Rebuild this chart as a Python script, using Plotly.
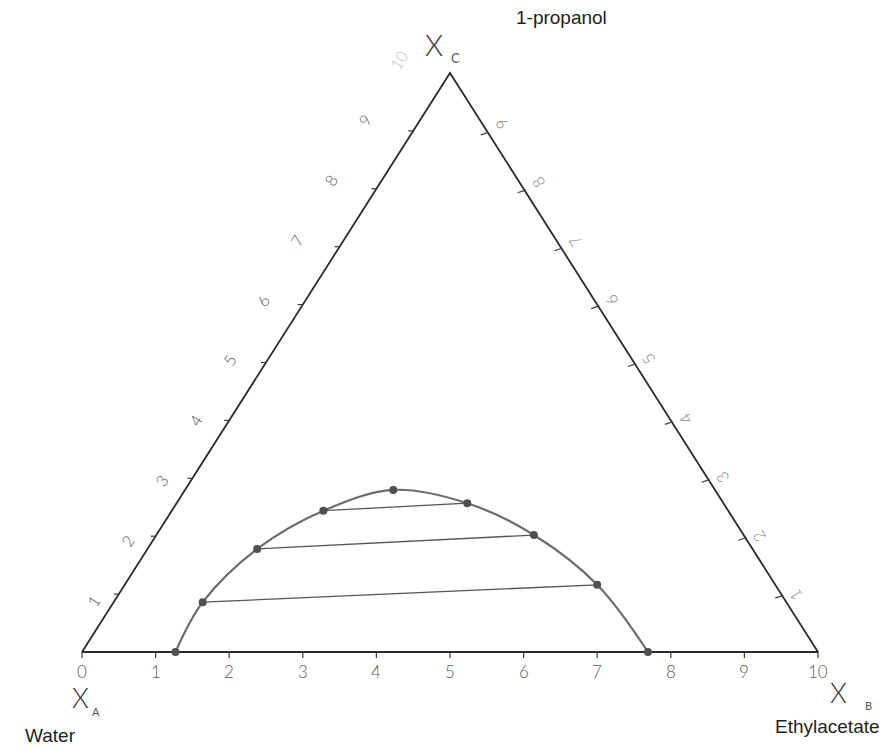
import plotly.graph_objects as go

# Binodal (solubility) curve of water / ethyl acetate / 1-propanol,
# compositions on a 0-10 scale (each row sums to 10)
water = [8.73, 7.93, 6.73, 5.50, 4.37, 3.48, 2.85, 2.42, 2.31]
ethylacetate = [1.27, 1.21, 1.49, 2.06, 2.83, 3.95, 5.13, 6.42, 7.69]
propanol = [0.00, 0.86, 1.78, 2.44, 2.80, 2.57, 2.02, 1.16, 0.00]

# Tie lines: index of the water-rich point and of its ester-rich partner
tie_water_rich = [1, 2, 3]
tie_ester_rich = [7, 6, 5]

bottom_ticks = list(range(0, 11))
left_ticks = list(range(1, 11))
right_ticks = list(range(1, 10))

W, H = 892, 748
# pixel scale of one composition unit along x and y
SX, SY = 73.6, 57.9
X0, Y0 = 82, 652


def proj(b, c):
    """Ternary (B, C) -> cartesian position inside the triangle."""
    return b + c / 2.0, c


fig = go.Figure()

# triangle frame A(water) - B(ethyl acetate) - C(1-propanol)
corners = [proj(0, 0), proj(10, 0), proj(0, 10), proj(0, 0)]
fig.add_trace(go.Scatter(
    x=[p[0] for p in corners], y=[p[1] for p in corners],
    mode="lines", line=dict(color="#2b2b2b", width=1.8),
    hoverinfo="skip", showlegend=False))

# tick marks on the three sides
tx, ty = [], []
for k in bottom_ticks:
    x, y = proj(k, 0)
    tx += [x, x, None]
    ty += [y, y - 6 / SY, None]
for k in left_ticks[:-1]:
    x, y = proj(0, k)
    tx += [x, x - 5 / SX, None]
    ty += [y, y, None]
for k in right_ticks:
    x, y = proj(10 - k, k)
    tx += [x + 2 / SX, x - 6 / SX, None]
    ty += [y - 1.3 / SY, y - 4 / SY, None]
fig.add_trace(go.Scatter(x=tx, y=ty, mode="lines",
                         line=dict(color="#3a3a3a", width=1.2),
                         hoverinfo="skip", showlegend=False))

# binodal curve
cx, cy = zip(*[proj(b, c) for b, c in zip(ethylacetate, propanol)])
fig.add_trace(go.Scatter(
    x=list(cx), y=list(cy), mode="lines",
    line=dict(color="#6c6c6c", width=2.2, shape="spline", smoothing=1.0),
    hoverinfo="skip", showlegend=False))

# tie lines
lx, ly = [], []
for i, j in zip(tie_water_rich, tie_ester_rich):
    lx += [cx[i], cx[j], None]
    ly += [cy[i], cy[j], None]
fig.add_trace(go.Scatter(x=lx, y=ly, mode="lines",
                         line=dict(color="#555555", width=1.3),
                         hoverinfo="skip", showlegend=False))

# measured points
fig.add_trace(go.Scatter(
    x=list(cx), y=list(cy), mode="markers",
    marker=dict(color="#505050", size=8),
    customdata=list(zip(water, ethylacetate, propanol)),
    hovertemplate="Water %{customdata[0]}<br>Ethylacetate %{customdata[1]}"
                  "<br>1-propanol %{customdata[2]}<extra></extra>",
    showlegend=False))

ann = []
tick_font = "Lato"
for k in bottom_ticks:
    x, y = proj(k, 0)
    ann.append(dict(x=x, y=y, xref="x", yref="y", text=str(k), showarrow=False,
                    yshift=-19, font=dict(family=tick_font, size=17, color="#5c5c5c",
                                          weight=300)))
for k in left_ticks:
    x, y = proj(0, k)
    ann.append(dict(x=x, y=y, xref="x", yref="y", text=str(k), showarrow=False,
                    xshift=-22 - 3 * k, yshift=2.2 * k - 9, textangle=-58,
                    font=dict(family=tick_font, size=16,
                              color="#c4c4c4" if k == 10 else "#585858",
                              weight=300)))
for k in right_ticks:
    x, y = proj(10 - k, k)
    ann.append(dict(x=x, y=y, xref="x", yref="y", text=str(k), showarrow=False,
                    xshift=14, yshift=1.1 * k - 3, textangle=-123,
                    font=dict(family=tick_font, size=16, color="#7e7e7e",
                              weight=300)))


def paper(xp, yp):
    return xp / W, 1 - yp / H


def label(xp, yp, text, size, color, family="Liberation Sans", weight=400):
    x, y = paper(xp, yp)
    ann.append(dict(x=x, y=y, xref="paper", yref="paper", text=text,
                    showarrow=False, xanchor="center", yanchor="middle",
                    font=dict(family=family, size=size, color=color, weight=weight)))


# component names
label(561, 18, "1-propanol", 19, "#1e1e1e")
label(50, 735, "Water", 19, "#1e1e1e")
label(827, 726, "Ethylacetate", 19, "#1e1e1e")

# axis symbols X_A, X_B, X_C
label(80, 697, "X", 27, "#3a3a3a", "Lato", 300)
label(96, 711, "A", 11, "#555555", "Lato", 400)
label(838, 692, "X", 27, "#3a3a3a", "Lato", 300)
label(868, 705, "B", 11, "#555555", "Lato", 400)
label(434, 44, "X", 29, "#3a3a3a", "Lato", 300)
label(455, 58, "C", 13, "#555555", "Lato", 400)

fig.update_layout(
    width=W, height=H,
    margin=dict(l=0, r=0, t=0, b=0),
    paper_bgcolor="white", plot_bgcolor="white",
    annotations=ann,
    xaxis=dict(range=[-X0 / SX, (W - X0) / SX], visible=False, fixedrange=True),
    yaxis=dict(range=[-(H - Y0) / SY, Y0 / SY], visible=False, fixedrange=True),
)

fig.write_html("out.html")
